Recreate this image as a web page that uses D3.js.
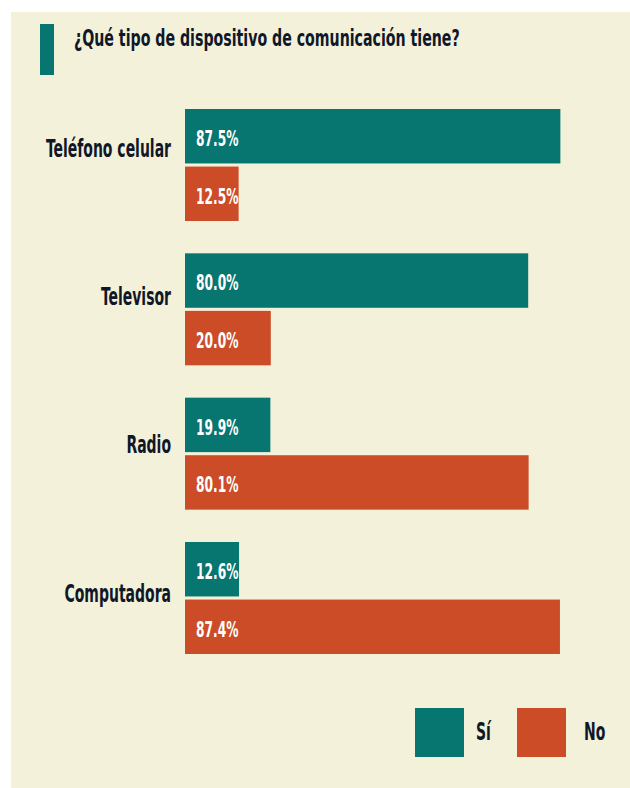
<!DOCTYPE html>
<html>
<head>
<meta charset="utf-8">
<script src="https://cdn.jsdelivr.net/npm/d3@7"></script>
<style>
  html, body { margin: 0; padding: 0; background: #ffffff; }
  svg { display: block; }
  text { font-family: "Liberation Sans Narrow", "DejaVu Sans Condensed", "Roboto", sans-serif; font-weight: bold; }
</style>
</head>
<body>
<svg id="chart" width="630" height="788"></svg>
<script>
// Survey answers: share of households with each device (percent)
const title = "¿Qué tipo de dispositivo de comunicación tiene?";
const categories = ["Teléfono celular", "Televisor", "Radio", "Computadora"];
const series = ["Sí", "No"];
const siValues = [87.5, 80.0, 19.9, 12.6];
const noValues = [12.5, 20.0, 80.1, 87.4];
const valueLabels = [["87.5%", "12.5%"], ["80.0%", "20.0%"], ["19.9%", "80.1%"], ["12.6%", "87.4%"]];

const colors = { "Sí": "#077570", "No": "#cc4c27" };
const ink = "#101828";

const svg = d3.select("#chart");
const W = 630, H = 788;

// horizontal factor that makes a sample string span a given width at a given size
function squeezeFor(sample, size, width) {
  const t = svg.append("text").attr("font-size", size).text(sample);
  const w = t.node().getComputedTextLength();
  t.remove();
  return width / w;
}

// cream panel
svg.append("rect").attr("x", 11).attr("y", 12).attr("width", W - 11).attr("height", H - 12)
  .attr("fill", "#f4f1da");

// title accent and heading
svg.append("rect").attr("x", 40).attr("y", 24).attr("width", 14).attr("height", 51)
  .attr("fill", colors["Sí"]);

const titleSize = 22.5, labelSize = 24, valueSize = 20.5;
const sqTitle = squeezeFor(title, titleSize, 386);
const sqLabel = squeezeFor("Televisor", labelSize, 70);
const sqValue = squeezeFor("87.5%", valueSize, 42.5);

svg.append("text")
  .attr("font-size", titleSize).attr("fill", ink)
  .attr("transform", `translate(74,45.5) scale(${sqTitle},1)`)
  .text(title);

const rows = categories.map((c, i) => ({
  category: c,
  values: [
    { key: "Sí", value: siValues[i], label: valueLabels[i][0] },
    { key: "No", value: noValues[i], label: valueLabels[i][1] }
  ]
}));

// scales
const x = d3.scaleLinear().domain([0, 100]).range([185, 185 + 429]);
const y = d3.scaleBand().domain(categories).range([109, 654]).paddingInner(0.224).paddingOuter(0);
const ySub = d3.scaleBand().domain(series).range([0, y.bandwidth()]).paddingInner(0.054);
const yLabel = d3.scalePoint().domain(categories).range([156.7, 601.7]);

const groups = svg.append("g").selectAll("g")
  .data(rows).join("g")
  .attr("transform", d => `translate(0,${y(d.category)})`);

groups.selectAll("rect")
  .data(d => d.values).join("rect")
  .attr("x", x(0))
  .attr("y", d => ySub(d.key))
  .attr("width", d => x(d.value) - x(0))
  .attr("height", ySub.bandwidth())
  .attr("fill", d => colors[d.key]);

groups.selectAll("text.val")
  .data(d => d.values).join("text")
  .attr("class", "val")
  .attr("font-size", valueSize)
  .attr("fill", "#ffffff")
  .attr("transform", d => `translate(${x(0) + 11},${ySub(d.key) + ySub.bandwidth() / 2 + 9.8}) scale(${sqValue},1)`)
  .text(d => d.label);

// category labels
svg.append("g").selectAll("text")
  .data(categories).join("text")
  .attr("font-size", labelSize)
  .attr("fill", ink)
  .attr("text-anchor", "end")
  .attr("transform", d => `translate(171,${yLabel(d)}) scale(${sqLabel},1)`)
  .text(d => d);

// legend: swatches and their names
const legendX = d3.scalePoint().domain(series).range([415, 517]);
const legendTextX = d3.scalePoint().domain(series).range([476, 584]);
const legend = svg.append("g");
legend.selectAll("rect")
  .data(series).join("rect")
  .attr("x", d => legendX(d)).attr("y", 708)
  .attr("width", 49).attr("height", 49)
  .attr("fill", d => colors[d]);
legend.selectAll("text")
  .data(series).join("text")
  .attr("font-size", labelSize)
  .attr("fill", ink)
  .attr("transform", d => `translate(${legendTextX(d)},740) scale(${sqLabel},1)`)
  .text(d => d);
</script>
</body>
</html>
